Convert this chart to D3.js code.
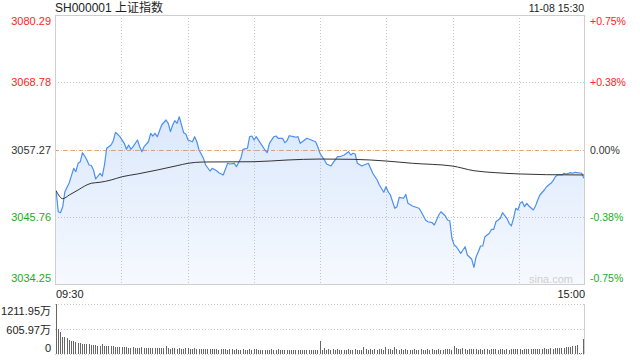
<!DOCTYPE html>
<html><head><meta charset="utf-8">
<script src="https://cdn.jsdelivr.net/npm/d3@7"></script>
<style>
html,body{margin:0;padding:0;background:#fff;}
svg{display:block;font-family:"Liberation Sans",Arial,"Noto Sans CJK SC",sans-serif;}
</style></head><body>
<svg id="c" width="640" height="360"></svg>
<script>
// ---- data ----
const title = "SH000001 上证指数";
const stamp = "11-08 15:30";
const prevClose = 3057.27;
const priceTicks = [3080.29, 3068.78, 3057.27, 3045.76, 3034.25];
const pctTicks = ["+0.75%", "+0.38%", "0.00%", "-0.38%", "-0.75%"];
const timeTicks = ["09:30", "15:00"];
const volTicks = [1211.95, 605.97, 0];
const volTickLabels = ["1211.95万", "605.97万", "0"];

const priceMinutes = [0,1,2,3,4,5,6,8,9,10,11,12,13,14,15,16,17,18,20,21,22,23,25,26,27,28,29,31,32,33,34,35,37,38,39,40,42,43,44,45,46,48,50,51,52,53,54,55,56,58,59,60,62,63,64,65,67,68,70,71,73,74,76,78,79,81,82,84,85,87,88,89,90,91,93,95,96,97,99,100,101,103,104,105,106,108,109,110,111,113,114,116,118,119,120,122,123,125,126,128,129,131,133,134,135,136,137,139,140,142,143,144,146,147,149,150,151,152,154,155,156,158,159,160,162,163,165,166,168,169,171,172,174,175,177,178,179,180,181,182,184,185,186,187,189,190,191,192,193,194,195,197,198,199,200,202,203,205,206,207,208,209,210,211,212,213,214,215,217,218,219,220,222,223,225,226,227,228,230,231,232,234,235,236,237,239,240];
const prices = [3050.22,3046.62,3046.45,3047.48,3050.05,3050.80,3051.59,3054.05,3053.47,3054.91,3055.18,3056.72,3056.16,3055.47,3054.62,3054.55,3053.76,3052.22,3053.20,3052.73,3054.62,3057.48,3058.04,3058.78,3060.21,3059.87,3059.46,3058.33,3057.30,3058.04,3057.30,3057.75,3058.90,3057.75,3056.89,3057.75,3058.60,3060.04,3059.58,3060.04,3059.46,3061.46,3062.32,3061.75,3060.32,3061.46,3062.20,3061.75,3062.88,3060.15,3059.92,3058.90,3058.60,3059.46,3058.60,3057.18,3055.76,3054.62,3053.59,3054.05,3053.64,3053.30,3052.91,3054.91,3054.79,3054.91,3054.33,3055.76,3057.30,3057.48,3059.46,3059.58,3058.90,3059.46,3058.33,3057.18,3056.72,3058.33,3059.46,3059.58,3059.19,3059.19,3058.43,3058.78,3059.63,3059.46,3059.36,3059.46,3058.33,3058.90,3059.19,3058.90,3058.60,3057.75,3056.62,3055.47,3054.79,3054.45,3055.01,3056.04,3056.04,3056.33,3056.89,3056.33,3056.62,3056.50,3054.91,3054.45,3054.62,3054.91,3054.05,3053.20,3052.05,3051.19,3049.96,3050.90,3050.05,3049.48,3047.21,3047.48,3049.09,3048.92,3049.60,3048.06,3047.60,3047.48,3047.21,3046.62,3045.20,3044.91,3044.74,3044.35,3046.06,3046.62,3045.89,3045.20,3045.08,3042.07,3040.93,3040.63,3039.50,3040.07,3040.63,3039.21,3038.48,3037.11,3038.92,3039.78,3040.75,3040.75,3042.35,3042.93,3043.61,3043.61,3044.91,3045.49,3046.45,3045.49,3044.64,3044.18,3045.49,3047.21,3046.92,3048.06,3048.34,3047.48,3048.06,3047.60,3046.92,3047.60,3048.63,3049.48,3050.34,3050.90,3051.49,3051.93,3052.61,3052.91,3052.91,3053.20,3053.08,3053.30,3053.20,3053.37,3053.30,3053.20,3052.34];

const avgMinutes = [0,3,6,10,13,16,20,25,30,37,46,55,60,67,90,105,120,135,150,162,180,190,200,211,223,240];
const avgPrices = [3050.22,3048.85,3049.48,3050.34,3051.02,3051.49,3051.66,3052.05,3052.61,3053.08,3053.76,3054.50,3054.91,3055.13,3055.18,3055.47,3055.64,3055.59,3055.30,3054.91,3054.45,3053.64,3053.30,3053.08,3052.96,3052.91];

const volumes = [
1212,598,540,419,411,380,339,322,308,283,
274,259,242,245,240,236,226,228,218,202,
205,234,198,186,200,196,190,170,168,172,
165,160,168,150,156,162,150,148,145,158,
150,142,150,140,152,148,140,138,142,135,
205,140,130,138,145,128,150,132,125,140,
135,128,120,138,125,118,132,122,128,115,
120,110,125,118,108,115,122,112,105,118,
110,105,115,100,108,118,95,102,110,98,
120,112,100,105,95,108,100,92,115,105,
98,110,100,95,88,100,108,92,98,105,
95,100,90,102,96,88,105,98,92,100,
322,
95,145,90,120,100,110,92,118,100,
98,105,92,110,100,95,112,88,105,100,
170,110,98,120,105,115,95,128,110,100,
170,115,120,108,170,112,100,118,105,110,
98,108,95,112,100,90,118,105,95,110,
100,112,105,95,118,108,100,115,110,120,
105,200,150,130,112,138,120,105,125,110,
118,128,100,115,108,122,112,100,118,125,
110,105,120,112,100,115,108,118,122,110,
125,118,108,120,115,130,112,125,118,122,
128,120,135,125,130,140,132,145,138,150,
155,148,165,160,175,185,200,210,25,20,
372];

// ---- layout ----
const L = 55, R = 585, T = 15, B = 284, VT = 304, VB = 354;
const svg = d3.select("#c");
const red = "#f22", green = "#1daa1d", dark = "#333";

const x = d3.scaleLinear().domain([-0.5, 240.5]).range([L, R]);
const y = d3.scaleLinear().domain([priceTicks[4], priceTicks[0]]).range([B, T]);
const yv = d3.scaleLinear().domain([0, volTicks[0]]).range([VB, VT]);

const defs = svg.append("defs");
const grad = defs.append("linearGradient").attr("id","g").attr("gradientUnits","userSpaceOnUse")
  .attr("x1",0).attr("x2",0).attr("y1",T+100).attr("y2",B);
grad.append("stop").attr("offset","0").attr("stop-color","#4a8cf0").attr("stop-opacity",0.2);
grad.append("stop").attr("offset","1").attr("stop-color","#4a8cf0").attr("stop-opacity",0.05);

// grid lines (price panel)
const g = svg.append("g");
const vx = d3.range(1, 8).map(k => Math.round(L + k * (R - L) / 8) + 0.5);
g.selectAll("line.v").data(vx).join("line")
  .attr("x1", d => d).attr("x2", d => d).attr("y1", T).attr("y2", B)
  .attr("stroke", "#c8c8c8").attr("stroke-dasharray", "1,2");
g.selectAll("line.h").data(priceTicks.slice(1, 4)).join("line")
  .attr("x1", L).attr("x2", R).attr("y1", d => Math.round(y(d)) + 0.5).attr("y2", d => Math.round(y(d)) + 0.5)
  .attr("stroke", "#c8c8c8").attr("stroke-dasharray", "1,2");
// prev close dashed line
g.append("line").attr("x1", L).attr("x2", R)
  .attr("y1", Math.round(y(prevClose)) + 0.5).attr("y2", Math.round(y(prevClose)) + 0.5)
  .attr("stroke", "#f3a26a").attr("stroke-dasharray", "4,4");

// area + price line
const pts = priceMinutes.map((m, i) => [m, prices[i]]);
svg.append("path").datum(pts)
  .attr("d", d3.area().x(d => x(d[0])).y0(B).y1(d => y(d[1])))
  .attr("fill", "url(#g)");
svg.append("path").datum(pts)
  .attr("d", d3.line().x(d => x(d[0])).y(d => y(d[1])))
  .attr("fill", "none").attr("stroke", "#4b8ff1").attr("stroke-width", 1.2).attr("stroke-linejoin","round");
// average line
const apts = avgMinutes.map((m, i) => [m, avgPrices[i]]);
svg.append("path").datum(apts)
  .attr("d", d3.line().curve(d3.curveMonotoneX).x(d => x(d[0])).y(d => y(d[1])))
  .attr("fill", "none").attr("stroke", "#333").attr("stroke-width", 1);

// frame
svg.append("rect").attr("x", L + 0.5).attr("y", T + 0.5).attr("width", R - L - 1).attr("height", B - T)
  .attr("fill", "none").attr("stroke", "#cfcfcf");

// watermark
svg.append("text").attr("x", 573).attr("y", 279).attr("text-anchor", "end").attr("dominant-baseline","central")
  .attr("font-size", 11).attr("fill", "#cfcfcf").text("sina.com");

// price labels
const clampY = v => Math.min(Math.max(y(v), T + 5.5), B - 6.5);
svg.selectAll("text.pl").data(priceTicks).join("text")
  .attr("x", 51).attr("y", d => clampY(d)).attr("text-anchor", "end").attr("dominant-baseline", "central")
  .attr("font-size", 11).attr("fill", d => d > prevClose ? red : d < prevClose ? green : dark)
  .text(d => d.toFixed(2));
svg.selectAll("text.pr").data(pctTicks).join("text")
  .attr("x", 590).attr("y", (d, i) => clampY(priceTicks[i])).attr("dominant-baseline", "central")
  .attr("font-size", 10.5).attr("fill", (d, i) => i < 2 ? red : i > 2 ? green : dark)
  .text(d => d);

// title and time stamp
svg.append("text").attr("x", 55).attr("y", 7.5).attr("dominant-baseline", "central")
  .attr("font-size", 12).attr("fill", "#222").text(title);
svg.append("text").attr("x", 584).attr("y", 7.5).attr("text-anchor", "end").attr("dominant-baseline", "central")
  .attr("font-size", 10.5).attr("fill", "#222").text(stamp);

// time axis labels
svg.append("text").attr("x", L + 1).attr("y", 293.5).attr("dominant-baseline", "central")
  .attr("font-size", 11).attr("fill", "#222").text(timeTicks[0]);
svg.append("text").attr("x", R).attr("y", 293.5).attr("text-anchor", "end").attr("dominant-baseline", "central")
  .attr("font-size", 11).attr("fill", "#222").text(timeTicks[1]);

// volume panel
const vg = svg.append("g");
vg.selectAll("line.vh").data(volTicks).join("line")
  .attr("x1", L).attr("x2", R).attr("y1", d => Math.round(yv(d)) + 0.5).attr("y2", d => Math.round(yv(d)) + 0.5)
  .attr("stroke", "#c8c8c8").attr("stroke-dasharray", "1,2");
vg.append("line").attr("x1", R - 0.5).attr("x2", R - 0.5).attr("y1", VT).attr("y2", VB).attr("stroke", "#cfcfcf");
vg.selectAll("rect").data(volumes).join("rect")
  .attr("x", (d, i) => Math.floor(x(i))).attr("width", 1)
  .attr("y", d => Math.round(yv(d))).attr("height", d => VB - Math.round(yv(d)))
  .attr("fill", "#666");
const vly = [311, 330, 348];
vg.selectAll("text").data(volTickLabels).join("text")
  .attr("x", 51).attr("y", (d, i) => vly[i]).attr("text-anchor", "end").attr("dominant-baseline", "central")
  .attr("font-size", 11).attr("fill", "#222").text(d => d);
</script></body></html>
